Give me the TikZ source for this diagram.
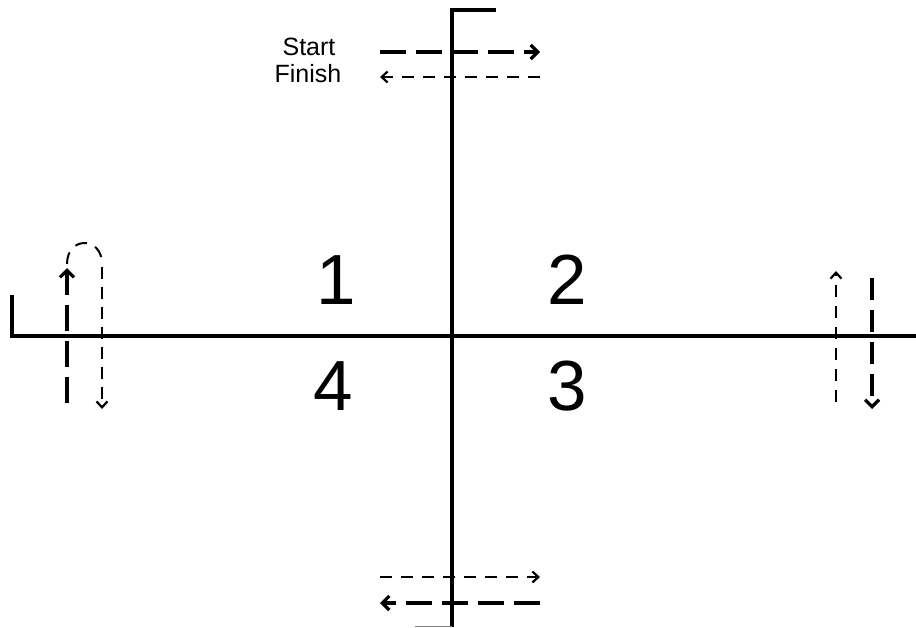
\documentclass[tikz,border=0pt]{standalone}
\usepackage{fontspec}
\setmainfont{Liberation Sans}
\usetikzlibrary{arrows.meta}
\begin{document}
\begin{tikzpicture}[x=1pt,y=-1pt,
  axis/.style={line width=3.4pt,line cap=butt},
  thickdash/.style={line width=3.6pt,dash pattern=on 26pt off 10pt,-{Straight Barb[length=7pt,width=14pt,line width=3.2pt]}},
  thindash/.style={line width=2pt,dash pattern=on 12pt off 9pt,-{Straight Barb[length=6pt,width=11pt,line width=2.2pt]}},
  loopdash/.style={line width=2pt,dash pattern=on 12pt off 9pt},
  quad/.style={font=\fontsize{71}{71}\selectfont,inner sep=0pt,anchor=base},
  lbl/.style={font=\fontsize{25}{25}\selectfont,inner sep=0pt,anchor=base}]
\useasboundingbox (0,0) rectangle (916,627);
% axes
\coordinate (vt) at (452,10);
\coordinate (vtr) at (496,10);
\coordinate (vb) at (452,627);
\coordinate (hl) at (12,336);
\coordinate (hlt) at (12,295);
\coordinate (hr) at (916,336);
\draw[axis] (vtr) -- (vt) -- (vb);
\draw[axis] (hlt) -- (hl) -- (hr);
\coordinate (bt1) at (415,626);
\draw[line width=1pt,gray] (bt1) -- (vb |- bt1);
% quadrant numbers
\node[quad] (q1) at (336,304) {1};
\node[quad] (q2) at (567,304) {2};
\node[quad] (q3) at (567,410) {3};
\node[quad] (q4) at (333,410) {4};
% labels
\node[lbl] (start) at (309,55) {Start};
\node[lbl] (finish) at (308,82) {Finish};
% top arrows
\coordinate (s1) at (380,52);
\coordinate (s2) at (540,52);
\draw[thickdash] (s1) -- (s2);
\coordinate (f1) at (540,77);
\coordinate (f2) at (380,77);
\draw[thindash] (f1) -- (f2);
% bottom arrows
\coordinate (b1) at (380,577);
\coordinate (b2) at (540,577);
\draw[thindash] (b1) -- (b2);
\coordinate (b3) at (540,603);
\coordinate (b4) at (380,603);
\draw[thickdash] (b3) -- (b4);
% left loop
\coordinate (lu1) at (67,403);
\coordinate (lu2) at (67,268);
\draw[thickdash] (lu1) -- (lu2);
\coordinate (la) at (67,264);
\coordinate (lb) at (102,264);
\draw[loopdash] (la) .. controls (67,236) and (102,236) .. (lb);
\coordinate (ld1) at (102,267);
\coordinate (ld2) at (102,409);
\draw[thindash,dash pattern=on 12pt off 8pt] (ld1) -- (ld2);
% right arrows
\coordinate (ru1) at (836,402);
\coordinate (ru2) at (836,271);
\draw[thindash] (ru1) -- (ru2);
\coordinate (rd1) at (872,278);
\coordinate (rd2) at (872,409);
\draw[thickdash,dash pattern=on 22pt off 10pt] (rd1) -- (rd2);
\end{tikzpicture}
\end{document}
